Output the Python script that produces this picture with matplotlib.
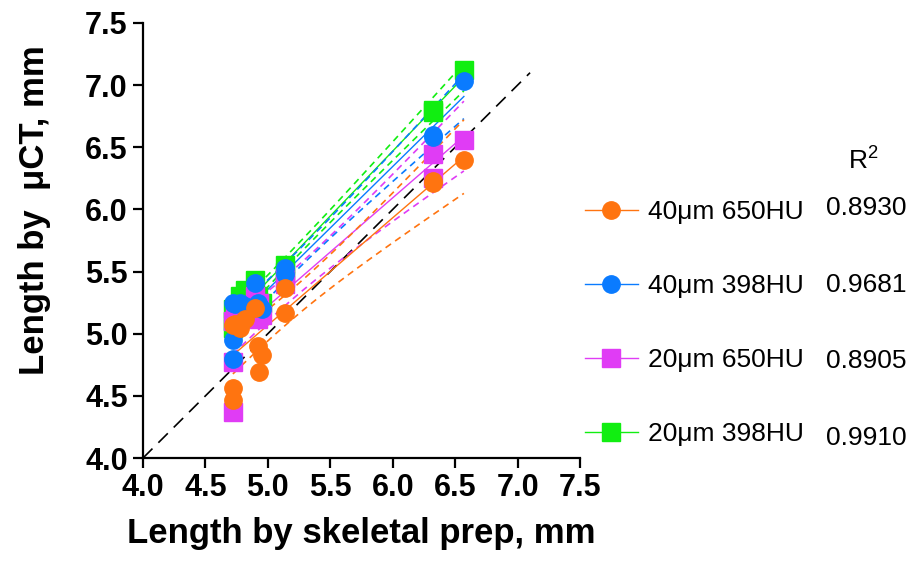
import numpy as np
import matplotlib
matplotlib.use("Agg")
import matplotlib.pyplot as plt
from matplotlib.lines import Line2D

plt.rcParams['font.family'] = ['Liberation Sans', 'DejaVu Sans']
plt.rcParams['mathtext.fontset'] = 'custom'
plt.rcParams['mathtext.rm'] = 'Liberation Sans'

# skeletal prep length (same specimens for every uCT setting)
x = np.array([4.72, 4.72, 4.72, 4.74, 4.78, 4.82, 4.90, 4.92, 4.93, 4.95,
              5.14, 5.14, 6.32, 6.32, 6.57])

y_40_650 = np.array([4.47, 4.56, 5.07, 5.08, 5.05, 5.12, 5.21, 4.90, 4.69, 4.83,
                     5.17, 5.37, 6.21, 6.23, 6.40])
y_40_398 = np.array([4.80, 4.95, 5.25, 5.24, 5.25, 5.22, 5.41, 5.25, 5.22, 5.20,
                     5.48, 5.53, 6.58, 6.60, 7.03])
y_20_650 = np.array([4.37, 4.77, 5.10, 5.15, 5.15, 5.20, 5.30, 5.12, 5.25, 5.15,
                     5.40, 5.45, 6.45, 6.25, 6.56])
y_20_398 = np.array([5.05, 5.10, 5.20, 5.20, 5.30, 5.35, 5.43, 5.30, 5.25, 5.25,
                     5.50, 5.55, 6.78, 6.80, 7.12])

labels = ['40\u03bcm 650HU', '40\u03bcm 398HU', '20\u03bcm 650HU', '20\u03bcm 398HU']
r2 = ['0.8930', '0.9681', '0.8905', '0.9910']
colors = ['#FF7410', '#0A7BFF', '#E03CF5', '#11EE11']
markers = ['o', 'o', 's', 's']
series = [y_40_650, y_40_398, y_20_650, y_20_398]

identity = [4.0, 7.1]
ticks = [4.0, 4.5, 5.0, 5.5, 6.0, 6.5, 7.0, 7.5]

fig = plt.figure(figsize=(9.12, 5.65), dpi=100)
ax = fig.add_axes([143 / 912, 1 - 458 / 565, 437 / 912, 435 / 565])

ax.plot(identity, identity, color='black', lw=1.2, dashes=(8, 5), zorder=1)

# linear fit with 95% confidence band
t95 = 2.160  # t(0.975, df=13)
xf = np.linspace(x.min(), x.max(), 50)
n = len(x)
order = [3, 2, 1, 0]
for i in order:
    y = series[i]
    b, a = np.polyfit(x, y, 1)
    yhat = a + b * x
    s = np.sqrt(np.sum((y - yhat) ** 2) / (n - 2))
    se = s * np.sqrt(1 / n + (xf - x.mean()) ** 2 / np.sum((x - x.mean()) ** 2))
    yf = a + b * xf
    ax.plot(xf, yf, color=colors[i], lw=1.0, zorder=2)
    ax.plot(xf, yf + t95 * se, color=colors[i], lw=1.2, dashes=(4, 3), zorder=2)
    ax.plot(xf, yf - t95 * se, color=colors[i], lw=1.2, dashes=(4, 3), zorder=2)

for i in order:
    ax.plot(x, series[i], ls='none', marker=markers[i], ms=12.5,
            color=colors[i], mec=colors[i], zorder=3 + (3 - i))

ax.set_xlim(4.0, 7.5)
ax.set_ylim(4.0, 7.5)
ax.set_xticks(ticks)
ax.set_yticks(ticks)
ax.set_xticklabels([f'{t:.1f}' for t in ticks], fontsize=22, fontweight='bold')
ax.set_yticklabels([f'{t:.1f}' for t in ticks], fontsize=22, fontweight='bold')
ax.tick_params(width=1.6, length=7, direction='out', pad=4)
for sp in ['top', 'right']:
    ax.spines[sp].set_visible(False)
for sp in ['left', 'bottom']:
    ax.spines[sp].set_linewidth(1.6)

ax.set_xlabel('Length by skeletal prep, mm', fontsize=25, fontweight='bold', labelpad=10)
ax.set_ylabel('Length by  \u03bcCT, mm', fontsize=25, fontweight='bold')
ax.yaxis.set_label_coords(-0.21, 0.57)

handles = [Line2D([], [], color=colors[i], lw=1, marker=markers[i], ms=12.5)
           for i in range(4)]
fig.legend(handles, labels, loc='center left', frameon=False, fontsize=19,
           bbox_to_anchor=(585 / 912, 1 - 323 / 565), borderpad=0, borderaxespad=0,
           handlelength=2.0, handletextpad=0.4, labelspacing=1.9)

row_y = [208, 285, 361, 438]
for ry, v in zip(row_y, r2):
    fig.text(826 / 912, 1 - ry / 565, v, fontsize=19, va='center', ha='left')
fig.text(848 / 912, 1 - 160 / 565, r'R$^{\mathrm{2}}$', fontsize=19, va='center', ha='left')

fig.savefig('out.png', dpi=100)
